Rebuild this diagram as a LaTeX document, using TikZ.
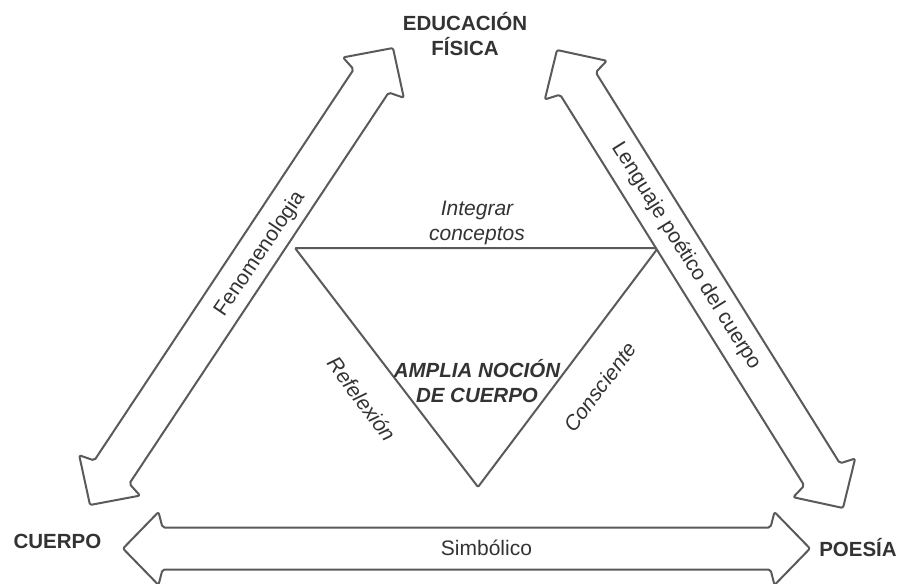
\documentclass[tikz,border=0pt]{standalone}
\usepackage{fontspec}
\setmainfont{Liberation Sans}
\usetikzlibrary{calc}
\definecolor{linegray}{HTML}{5A5A5A}
\definecolor{txt}{HTML}{333333}
% double-headed flat arrow between two named coordinates
\newcommand\flexarr[2]{%
 \draw[arrowline] (#1)
  -- ($(#1)!35.5pt!(#2)!36.5pt!90:(#2)$)
  -- ($(#1)!39.5pt!(#2)!21pt!90:(#2)$)
  -- ($(#2)!39.5pt!(#1)!21pt!-90:(#1)$)
  -- ($(#2)!35.5pt!(#1)!36.5pt!-90:(#1)$)
  -- (#2)
  -- ($(#2)!35.5pt!(#1)!36.5pt!90:(#1)$)
  -- ($(#2)!39.5pt!(#1)!21pt!90:(#1)$)
  -- ($(#1)!39.5pt!(#2)!21pt!-90:(#2)$)
  -- ($(#1)!35.5pt!(#2)!36.5pt!-90:(#2)$)
  -- cycle;}
\begin{document}
\begin{tikzpicture}[x=1pt,y=-1pt,
  arrowline/.style={draw=linegray, line width=2pt, fill=white, rounded corners=2pt, line join=round},
  triline/.style={draw=linegray, line width=2pt, rounded corners=1pt, line join=round},
  lbl/.style={text=txt, font=\fontsize{21}{25}\selectfont, inner sep=0pt, align=center},
  itlbl/.style={lbl, font=\fontsize{21}{25}\selectfont\itshape},
  bflbl/.style={lbl, font=\fontsize{20.5}{25}\selectfont\bfseries},
  bilbl/.style={lbl, font=\fontsize{20.5}{25}\selectfont\bfseries\itshape}]
\useasboundingbox (0,0) rectangle (898,584);
\clip (0,0) rectangle (898,584);

% corner labels
\node[bflbl] (ef) at (465,34) {EDUCACIÓN\\FÍSICA};
\node[bflbl, anchor=base] (cuerpo) at (57.5,548) {CUERPO};
\node[bflbl, anchor=base] (poesia) at (858,556) {POESÍA};

% arrow end points
\coordinate (L1) at (90,505);
\coordinate (L2) at (393,48);
\coordinate (R1) at (557,50);
\coordinate (R2) at (843,508);
\coordinate (H1) at (123,548.5);
\coordinate (H2) at (810,548.5);

% triangle
\coordinate (t1) at (295,248);
\coordinate (t2) at (658,248);
\coordinate (t3) at (478,487);
\draw[triline] (t1) -- (t2) -- (t3) -- cycle;

\flexarr{L1}{L2}
\flexarr{R1}{R2}
\flexarr{H1}{H2}

% arrow labels
\node[lbl, rotate=56] (fen) at (260,254) {Fenomenologia};
\node[lbl, rotate=-58] (len) at (686,256) {Lenguaje poético del cuerpo};
\node[lbl, anchor=base] (sim) at (486.5,555) {Simbólico};

% triangle labels
\node[itlbl] (int) at (477,223) {Integrar\\conceptos};
\node[bilbl] (amp) at (477,381) {AMPLIA NOCIÓN\\DE CUERPO};
\node[itlbl, rotate=-53] (ref) at (362,399) {Refelexión};
\node[itlbl, rotate=53] (con) at (600,387) {Consciente};
\end{tikzpicture}
\end{document}
